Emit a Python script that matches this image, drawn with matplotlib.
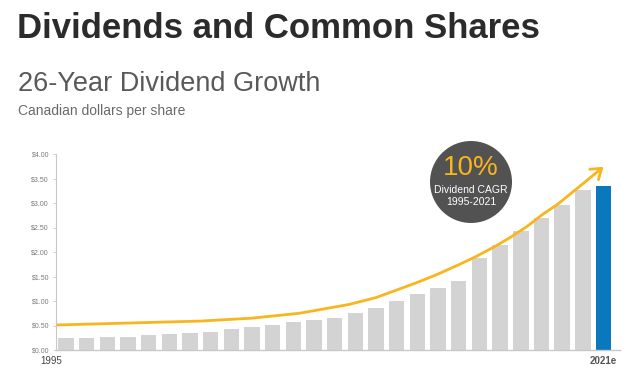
import matplotlib
matplotlib.use("Agg")
import matplotlib.pyplot as plt
from matplotlib.patches import Circle
import numpy as np

plt.rcParams['font.family'] = ['Liberation Sans', 'DejaVu Sans']

# dividends per share, 1995 .. 2021e (CAD)
years = list(range(1995, 2022))
dividends = [0.25, 0.25, 0.26, 0.27, 0.30, 0.33, 0.35, 0.37, 0.42, 0.46,
             0.52, 0.58, 0.61, 0.66, 0.75, 0.85, 0.99, 1.14, 1.27, 1.41,
             1.88, 2.14, 2.43, 2.70, 2.96, 3.26, 3.35]

# growth arrow (bar index, value)
trend_x = [-0.45, 3, 6.5, 9, 11.3, 13.7, 15, 16.1, 17, 18, 19, 19.8, 20.7,
           21.5, 22.3, 23.0, 23.8, 24.5, 25.2, 26.0]
trend_y = [0.51, 0.55, 0.59, 0.65, 0.75, 0.93, 1.07, 1.24, 1.38, 1.55, 1.74,
           1.90, 2.10, 2.30, 2.52, 2.75, 2.98, 3.22, 3.46, 3.74]

yticks = [0, 0.5, 1.0, 1.5, 2.0, 2.5, 3.0, 3.5, 4.0]
xlabels = ["1995", "2021e"]

W, H = 636, 378
fig = plt.figure(figsize=(W / 100, H / 100), dpi=100)
fig.patch.set_facecolor('white')

fig.text(17 / W, 1 - 29 / H, "Dividends and Common Shares", fontsize=25,
         fontweight='bold', color='#2b2b2b', va='center', ha='left')
fig.text(18 / W, 1 - 84 / H, "26-Year Dividend Growth", fontsize=19.5,
         color='#595959', va='center', ha='left')
fig.text(18 / W, 1 - 111 / H, "Canadian dollars per share", fontsize=10,
         color='#6a6a6a', va='center', ha='left')

ax = fig.add_axes([56 / W, 1 - 350 / H, (620 - 56) / W, (350 - 154) / H])
x = np.arange(len(years))
colors = ['#d3d3d3'] * (len(years) - 1) + ['#0a78bd']
ax.bar(x, dividends, width=0.75, color=colors, zorder=2)

ax.set_xlim(-0.48, 26.8)
ax.set_ylim(0, 4.0)
ax.set_yticks(yticks)
ax.set_yticklabels(["$%.2f" % v for v in yticks], fontsize=5, color='#7a7a7a')
ax.tick_params(axis='y', length=2, width=0.6, color='#c8c8c8', pad=3)
ax.set_xticks([])
for s in ['top', 'right']:
    ax.spines[s].set_visible(False)
ax.spines['left'].set_color('#c8c8c8')
ax.spines['bottom'].set_color('#c8c8c8')
ax.spines['left'].set_linewidth(0.8)
ax.spines['bottom'].set_linewidth(1.0)

ax.text(-0.7, -0.12, xlabels[0], fontsize=7, color='#444444',
        ha='center', va='top')
ax.text(26, -0.12, xlabels[1], fontsize=7, color='#555555',
        ha='center', va='top', fontweight='bold')

orange = '#f9b51c'
ax.plot(trend_x[:-1], trend_y[:-1], color=orange, lw=2, clip_on=False,
        solid_capstyle='butt', solid_joinstyle='round', zorder=3)
ax.annotate("", xy=(trend_x[-1], trend_y[-1]), xytext=(trend_x[-2], trend_y[-2]),
            arrowprops=dict(arrowstyle='->,head_length=0.5,head_width=0.35',
                            color=orange, lw=2, mutation_scale=14,
                            shrinkA=0, shrinkB=0),
            annotation_clip=False, zorder=3)

# CAGR badge
cx, cy, r = 471 / W, 1 - 182 / H, 41
fig.patches.append(Circle((cx * W, cy * H), r, transform=None,
                          facecolor='#525252', edgecolor='none', zorder=5))
fig.text(cx, 1 - 168 / H, "10%", fontsize=20, color=orange,
         ha='center', va='center', zorder=6)
fig.text(cx, 1 - 190 / H, "Dividend CAGR", fontsize=7.5, color='white',
         ha='center', va='center', zorder=6)
fig.text(cx, 1 - 202 / H, "1995-2021", fontsize=7.5, color='white',
         ha='center', va='center', zorder=6)

fig.savefig("out.png", dpi=100)
